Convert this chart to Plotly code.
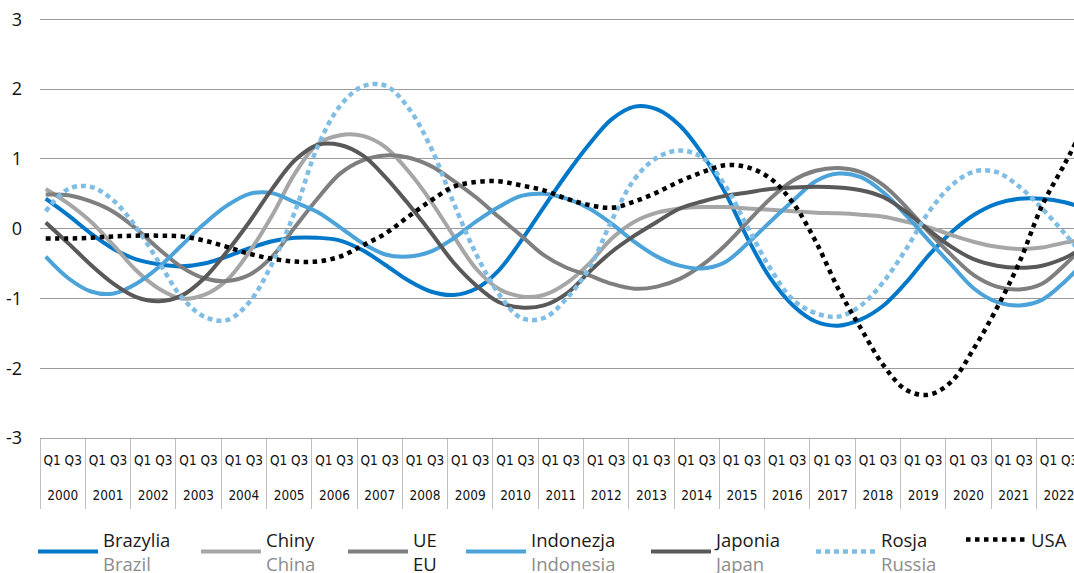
import plotly.graph_objects as go

# ---- data -------------------------------------------------------------
years = list(range(2000, 2023))
# observation periods: Q1 and Q3 of every year, plus the final 2022 Q4
periods = [(y, q) for y in years for q in (1, 3)] + [(2022, 4)]

brazylia = [0.43, 0.19, -0.07, -0.29, -0.44, -0.51, -0.54, -0.50, -0.40, -0.28, -0.18, -0.13,
            -0.13, -0.17, -0.31, -0.52, -0.74, -0.90, -0.95, -0.86, -0.60, -0.17, 0.31, 0.78,
            1.21, 1.57, 1.75, 1.71, 1.48, 1.07, 0.52, -0.14, -0.71, -1.10, -1.33, -1.39,
            -1.30, -1.10, -0.77, -0.38, -0.05, 0.20, 0.36, 0.43, 0.43, 0.38, 0.33]
chiny = [0.57, 0.36, 0.10, -0.24, -0.60, -0.86, -1.00, -0.95, -0.74, -0.33, 0.19, 0.79,
         1.21, 1.34, 1.33, 1.17, 0.83, 0.40, -0.10, -0.57, -0.86, -0.97, -0.95, -0.78,
         -0.50, -0.14, 0.10, 0.23, 0.29, 0.31, 0.31, 0.29, 0.27, 0.25, 0.23, 0.22,
         0.20, 0.17, 0.10, 0.02, -0.09, -0.19, -0.26, -0.29, -0.27, -0.20, -0.17]
ue = [0.49, 0.48, 0.39, 0.24, 0.00, -0.29, -0.55, -0.71, -0.75, -0.66, -0.40, 0.02,
      0.43, 0.79, 0.98, 1.05, 1.02, 0.90, 0.69, 0.45, 0.17, -0.10, -0.38, -0.56,
      -0.67, -0.79, -0.86, -0.83, -0.72, -0.52, -0.24, 0.10, 0.43, 0.69, 0.83, 0.87,
      0.81, 0.62, 0.31, -0.05, -0.38, -0.67, -0.83, -0.87, -0.79, -0.52, -0.36]
indonezja = [-0.40, -0.71, -0.90, -0.93, -0.79, -0.55, -0.24, 0.07, 0.33, 0.50, 0.51, 0.38,
             0.24, 0.02, -0.21, -0.37, -0.40, -0.33, -0.14, 0.10, 0.31, 0.47, 0.50, 0.43,
             0.29, 0.07, -0.19, -0.40, -0.53, -0.57, -0.48, -0.21, 0.10, 0.40, 0.68, 0.79,
             0.74, 0.52, 0.19, -0.17, -0.52, -0.86, -1.05, -1.10, -1.02, -0.76, -0.60]
japonia = [0.09, -0.21, -0.52, -0.79, -0.98, -1.04, -0.96, -0.71, -0.33, 0.10, 0.57, 0.98,
           1.20, 1.20, 1.05, 0.74, 0.36, -0.05, -0.48, -0.81, -1.05, -1.13, -1.10, -0.93,
           -0.62, -0.33, -0.10, 0.10, 0.29, 0.39, 0.47, 0.52, 0.57, 0.59, 0.60, 0.59,
           0.55, 0.45, 0.24, -0.02, -0.26, -0.44, -0.53, -0.56, -0.53, -0.42, -0.33]
rosja = [0.25, 0.57, 0.60, 0.40, 0.02, -0.48, -0.98, -1.26, -1.31, -1.05, -0.50, 0.24,
         1.17, 1.76, 2.04, 2.05, 1.74, 1.17, 0.38, -0.36, -0.93, -1.28, -1.28, -1.00,
         -0.57, 0.12, 0.71, 1.02, 1.12, 1.02, 0.62, 0.02, -0.57, -1.02, -1.21, -1.26,
         -1.10, -0.76, -0.29, 0.24, 0.62, 0.82, 0.81, 0.60, 0.29, -0.07, -0.26]
usa = [-0.14, -0.14, -0.13, -0.11, -0.10, -0.10, -0.11, -0.17, -0.26, -0.36, -0.43, -0.47,
       -0.47, -0.40, -0.24, -0.07, 0.17, 0.40, 0.60, 0.67, 0.68, 0.62, 0.55, 0.43,
       0.34, 0.30, 0.39, 0.52, 0.68, 0.81, 0.91, 0.88, 0.72, 0.37, -0.18, -0.86,
       -1.43, -1.96, -2.31, -2.38, -2.19, -1.71, -1.14, -0.48, 0.33, 0.93, 1.24]

names_pl = ["Brazylia", "Chiny", "UE", "Indonezja", "Japonia", "Rosja", "USA"]
names_en = ["Brazil", "China", "EU", "Indonesia", "Japan", "Russia", ""]
values = [brazylia, chiny, ue, indonezja, japonia, rosja, usa]

y_tickvals = [-3, -2, -1, 0, 1, 2, 3]
y_ticktext = ["-3", "-2", "-1", "0", "1", "2", "3"]

# ---- styles -----------------------------------------------------------
colors = ["#0077C8", "#A6A6A6", "#7F7F7F", "#4BA3D9", "#595959", "#7FBDE4", "#000000"]
dashes = ["solid", "solid", "solid", "solid", "solid", "5px,4px", "4.5px,4.5px"]
widths = [4, 4, 4, 4, 4, 4.5, 4.5]
en_colors = ["#8c8c8c", "#8c8c8c", "#1a1a1a", "#8c8c8c", "#8c8c8c", "#8c8c8c", "#8c8c8c"]
legend_px = [40, 203, 350, 468, 653, 818, 968]   # left edge of each legend sample (px)
W, H = 1074, 573

x = [y + (q - 0.5) / 4 for y, q in periods]

fig = go.Figure()
layout_legends = {}
for i, (pl, en, vals, col, dsh, w, ec) in enumerate(
        zip(names_pl, names_en, values, colors, dashes, widths, en_colors)):
    label = pl if not en else f"{pl}<br><span style='color:{ec}'>{en}</span>"
    lg = "legend" if i == 0 else f"legend{i + 1}"
    fig.add_trace(go.Scatter(
        x=x, y=vals, mode="lines", name=label, legend=lg,
        line=dict(color=col, width=w, dash=dsh, shape="spline", smoothing=1),
        hoverinfo="skip",
    ))
    layout_legends[lg] = dict(
        orientation="h", xref="container", yref="container",
        x=(legend_px[i] - 7) / W, y=0.091, xanchor="left", yanchor="top",
        font=dict(family="Open Sans", size=18.5, color="#1a1a1a"),
        itemwidth=60, bgcolor="rgba(0,0,0,0)",
    )

fig.update_layout(
    width=W, height=H,
    margin=dict(l=40, r=0, t=18, b=135),
    plot_bgcolor="white", paper_bgcolor="white",
    showlegend=True,
    **layout_legends,
)
fig.update_xaxes(
    range=[1999.999, 2022.83], automargin=False,
    tickmode="array",
    tickvals=[y + 0.5 for y in years],
    ticktext=[f"Q1 Q3<br><br>{y}" for y in years],
    ticks="", showgrid=False, zeroline=False,
    showline=True, linecolor="#a6a6a6", linewidth=1,
    ticklabelstandoff=10, ticklabeloverflow="allow",
    tickfont=dict(family="Liberation Sans Narrow, DejaVu Sans Condensed, sans-serif", size=13.5, color="#111111"),
    minor=dict(tickmode="array", tickvals=years, ticks="outside", ticklen=70,
               tickcolor="#bfbfbf", tickwidth=1, showgrid=False),
)
fig.update_yaxes(
    range=[-3, 3.02], automargin=False,
    tickmode="array", tickvals=y_tickvals, ticktext=y_ticktext,
    showgrid=True, gridcolor="#999999", gridwidth=1.2,
    zeroline=False, showline=False, ticks="",
    tickfont=dict(family="Open Sans", size=18, color="#111111"),
    ticklabelstandoff=17, ticklabeloverflow="allow",
)

fig.write_html(
    "out.html",
    config={"displayModeBar": False},
    post_script="document.body.style.margin='0';document.body.style.overflow='hidden';",
)
